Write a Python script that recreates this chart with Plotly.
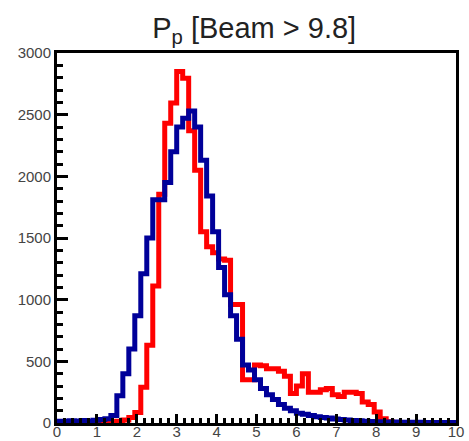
import plotly.graph_objects as go

bin_width = 0.15
# counts per bin, bins start at 0 with width 0.15
red_counts = [0, 0, 0, 0, 0, 0, 0, 2, 5, 10, 15, 25, 45, 85, 290, 630, 1110, 1855, 2430, 2595,
              2850, 2795, 2370, 2050, 1550, 1430, 1380, 1330, 1320, 960, 960, 350, 350, 470, 465,
              440, 440, 420, 380, 240, 300, 400, 250, 250, 270, 280, 230, 215, 250, 250, 240, 170,
              150, 90, 35, 10, 3, 2, 1, 1, 0, 0, 0, 0, 0, 0, 0]
blue_counts = [15, 12, 18, 15, 20, 15, 22, 28, 35, 60, 220, 400, 600, 870, 1210, 1500, 1810, 1810,
               1950, 2200, 2400, 2470, 2530, 2400, 2130, 1840, 1550, 1260, 1040, 870, 680, 470, 430,
               350, 280, 230, 190, 150, 120, 100, 80, 70, 60, 50, 45, 40, 32, 28, 24, 20, 18, 15, 12,
               10, 9, 8, 8, 7, 7, 6, 6, 5, 5, 5, 4, 4, 4]
x_ticks = [0, 1, 2, 3, 4, 5, 6, 7, 8, 9, 10]
y_ticks = [0, 500, 1000, 1500, 2000, 2500, 3000]
title_text = "P<sub>p</sub> [Beam &gt; 9.8]"

n = len(red_counts)
edges = [round(i * bin_width, 4) for i in range(n + 1)]

fig = go.Figure()
for counts, color in [(red_counts, "#ff0000"), (blue_counts, "#000099")]:
    fig.add_trace(go.Scatter(
        x=edges, y=counts + [counts[-1]], mode="lines",
        line=dict(shape="hv", color=color, width=5),
        showlegend=False, hoverinfo="skip"))

font = "Liberation Sans, Arial, Helvetica, sans-serif"
fig.update_layout(
    width=469, height=441,
    margin=dict(l=57, r=13, t=53, b=18, autoexpand=False),
    paper_bgcolor="white", plot_bgcolor="white",
    title=dict(text=title_text, x=0.542, xanchor="center", y=1 - 28 / 441, yanchor="middle",
               yref="container", font=dict(family=font, size=29, color="#222222")),
    font=dict(family=font, size=15, color="#444444"),
)
fig.update_xaxes(
    range=[0, 10], tickvals=x_ticks, ticktext=[str(v) for v in x_ticks],
    showgrid=False, zeroline=False, automargin=False,
    showline=True, linecolor="black", linewidth=3, mirror=True,
    ticks="inside", ticklen=9, tickwidth=2.5, tickcolor="black",
    ticklabelstandoff=-7,
    minor=dict(ticks="inside", ticklen=5, tickwidth=2.5, tickcolor="black", dtick=0.2, tick0=0, showgrid=False),
    tickfont=dict(size=15, color="#444444"),
)
fig.update_yaxes(
    range=[0, 3000], tickvals=y_ticks, ticktext=[str(v) for v in y_ticks],
    showgrid=False, zeroline=False, automargin=False,
    showline=True, linecolor="black", linewidth=3, mirror=True,
    ticks="inside", ticklen=11, tickwidth=2.5, tickcolor="black",
    minor=dict(ticks="inside", ticklen=6, tickwidth=2.5, tickcolor="black", dtick=100, tick0=0, showgrid=False),
    tickfont=dict(size=15, color="#444444"),
)

fig.write_html("out.html")
